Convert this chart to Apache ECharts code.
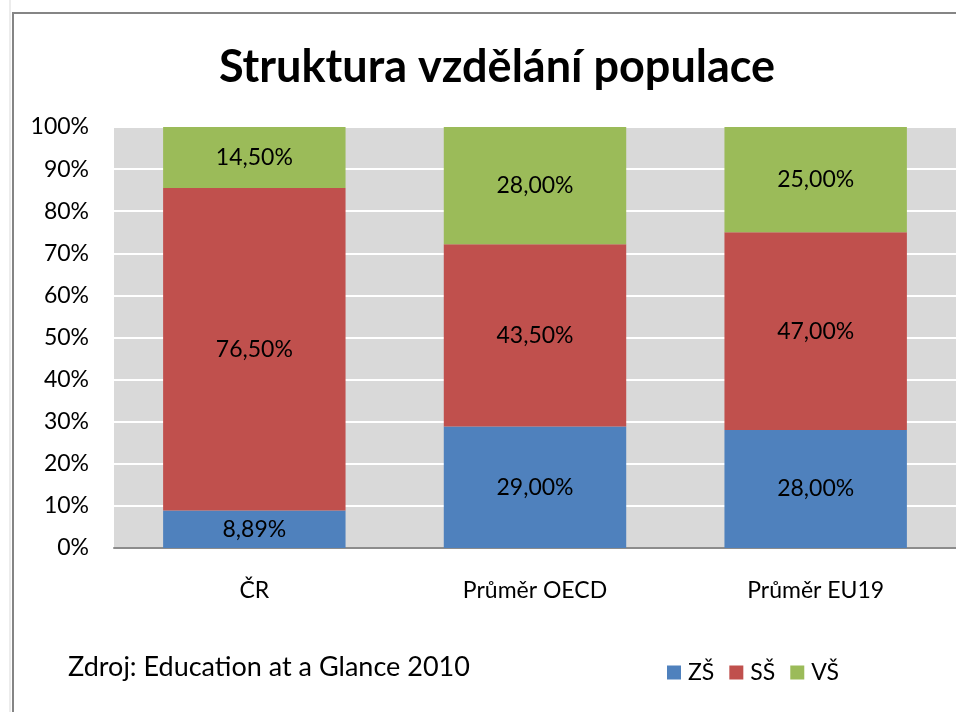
<!DOCTYPE html>
<html>
<head>
<meta charset="utf-8">
<script src="https://cdn.jsdelivr.net/npm/echarts@6/dist/echarts.min.js"></script>
<style>
  html, body { margin: 0; padding: 0; background: #fff; }
  #chart { width: 956px; height: 712px; }
</style>
</head>
<body>
<div id="chart"></div>
<script>
// kategorie a hodnoty (v %)
const categories = ['ČR', 'Průměr OECD', 'Průměr EU19'];
const seriesNames = ['ZŠ', 'SŠ', 'VŠ'];
const valuesZS = [8.89, 29.0, 28.0];
const valuesSS = [76.5, 43.5, 47.0];
const valuesVS = [14.5, 28.0, 25.0];
const colors = ['#4F81BD', '#C0504D', '#9BBB59'];

const font = 'Lato, "Open Sans", sans-serif';

// 100% skládaný graf - přepočet na podíly
const raw = [valuesZS, valuesSS, valuesVS];
const totals = categories.map((c, i) => raw.reduce((s, arr) => s + arr[i], 0));

const fmt = v => v.toFixed(2).replace('.', ',') + '%';

const series = raw.map((arr, k) => ({
    name: seriesNames[k],
    type: 'bar',
    stack: 'total',
    barCategoryGap: '35%',
    itemStyle: { color: colors[k] },
    label: {
        show: true,
        position: 'inside',
        color: '#000',
        fontFamily: font,
        fontSize: 23,
        formatter: p => fmt(arr[p.dataIndex])
    },
    data: arr.map((v, i) => v / totals[i] * 100)
}));

const myChart = echarts.init(document.getElementById('chart'));
myChart.setOption({
    animation: false,
    title: {
        text: 'Struktura vzdělání populace',
        left: 492,
        top: 40,
        textAlign: 'center',
        textStyle: { fontFamily: font, fontWeight: 'bold', fontSize: 45, color: '#000' }
    },
    grid: {
        left: 114, right: 0, top: 127, bottom: 164,
        show: true, backgroundColor: '#D9D9D9', borderWidth: 0
    },
    legend: {
        left: 662, top: 656,
        itemWidth: 14, itemHeight: 14, itemGap: 15,
        icon: 'rect',
        textStyle: { fontFamily: font, fontSize: 23, color: '#000', padding: [0, 0, 0, 2] },
        data: seriesNames
    },
    xAxis: {
        type: 'category',
        data: categories,
        axisLine: { lineStyle: { color: '#8c8c8c', width: 2 } },
        axisTick: { show: false },
        axisLabel: { margin: 31, fontFamily: font, fontSize: 23, color: '#000' }
    },
    yAxis: {
        type: 'value',
        min: 0, max: 100, interval: 10,
        axisLine: { show: false },
        axisTick: { show: false },
        splitLine: { lineStyle: { color: '#fff', width: 2 } },
        axisLabel: { margin: 25, fontFamily: font, fontSize: 23, color: '#000', formatter: '{value}%' }
    },
    graphic: [
        { type: 'line', shape: { x1: 10, y1: 0, x2: 10, y2: 712 }, style: { stroke: '#ececec', lineWidth: 2 } },
        { type: 'polyline', shape: { points: [[13, 712], [13, 13], [956, 13]] }, style: { stroke: '#858585', lineWidth: 2, fill: null } },
        {
            type: 'text', left: 68, top: 654,
            style: { text: 'Zdroj: Education at a Glance 2010', fontFamily: font, fontSize: 27, fill: '#000' }
        }
    ],
    series: series
});
</script>
</body>
</html>
